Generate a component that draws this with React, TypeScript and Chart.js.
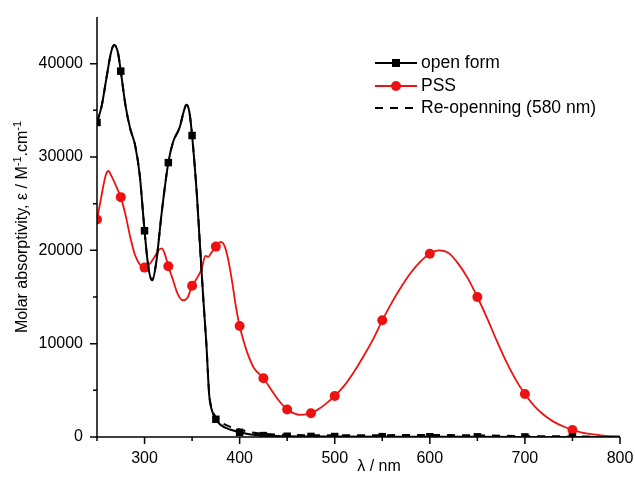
import React, { useEffect, useRef } from "react";
import { Chart, registerables } from "chart.js";

Chart.register(...registerables);

// ---- Data ----
const openWl = [250, 255, 260, 265, 268, 272, 275, 280, 285, 290, 295, 300, 304, 308, 312, 318, 325, 330, 337, 341, 344, 347, 350, 355, 358, 362, 365, 368, 371, 375, 380, 390, 400, 410, 425, 450, 475, 500, 550, 600, 650, 700, 750, 800];
const openEps = [33700, 35500, 38500, 41300, 42000, 41200, 39200, 35500, 33000, 31300, 28000, 22100, 18200, 16800, 18500, 24000, 29400, 31600, 33200, 34800, 35600, 34900, 32300, 26000, 21000, 14500, 10000, 4500, 2800, 1900, 1300, 800, 500, 300, 150, 80, 60, 50, 40, 30, 20, 10, 5, 0];

const pssWl = [250, 255, 259, 262, 265, 270, 275, 280, 285, 290, 295, 300, 305, 310, 314, 318, 321, 325, 330, 335, 340, 345, 350, 355, 360, 364, 367, 370, 375, 380, 384, 388, 392, 396, 400, 405, 410, 415, 425, 435, 442, 450, 458, 463, 470, 475, 480, 490, 500, 510, 520, 530, 540, 550, 560, 570, 580, 590, 600, 610, 620, 630, 640, 650, 660, 670, 680, 690, 700, 710, 720, 730, 740, 750, 760, 770, 780, 790, 800];
const pssEps = [23300, 26000, 28000, 28500, 28000, 26900, 25700, 23800, 21400, 19500, 18500, 18150, 18500, 19200, 19900, 20200, 19700, 18300, 16800, 15300, 14650, 14900, 16200, 17000, 18000, 19400, 19300, 19700, 20400, 20900, 20500, 19000, 16700, 14000, 11900, 10000, 8500, 7400, 6300, 4800, 3800, 2950, 2500, 2380, 2420, 2550, 2800, 3500, 4400, 5500, 6950, 8600, 10400, 12500, 14400, 16100, 17600, 18800, 19640, 20000, 19700, 18550, 17000, 15000, 12800, 10400, 8150, 6200, 4600, 3300, 2350, 1650, 1150, 750, 480, 300, 180, 100, 50];

const reWl = [250, 255, 260, 265, 268, 272, 275, 280, 285, 290, 295, 300, 304, 308, 312, 318, 325, 330, 337, 341, 344, 347, 350, 355, 358, 362, 365, 368, 371, 375, 380, 390, 400, 410, 425, 450, 475, 500, 550, 600, 650, 700, 750, 800];
const reEps = [33700, 35500, 38500, 41300, 42000, 41200, 39200, 35500, 33000, 31300, 28000, 22100, 18200, 16800, 18500, 24000, 29400, 31600, 33200, 34800, 35600, 34900, 32300, 26000, 21000, 14500, 10000, 4600, 3000, 2100, 1600, 1100, 800, 550, 350, 220, 200, 200, 200, 210, 180, 100, 60, 30];

const markerWl = [250, 275, 300, 325, 350, 375, 400, 425, 450, 475, 500, 550, 600, 650, 700, 750];

const xTickValues = [300, 400, 500, 600, 700, 800];
const xMinorValues = [250, 350, 450, 550, 650, 750];
const yTickValues = [0, 10000, 20000, 30000, 40000];
const yMinorValues = [5000, 15000, 25000, 35000];

const seriesNames = ["open form", "PSS", "Re-openning (580 nm)"];
const xTitle = "λ / nm";
const yTitleParts: [string, boolean][] = [
  ["Molar absorptivity, ε / M", false],
  ["-1", true],
  [".cm", false],
  ["-1", true],
];

const FONT = '"Liberation Sans", Arial, Helvetica, sans-serif';
const RED = "#ee1111";

const toXY = (wl: number[], eps: number[]) => wl.map((w, i) => ({ x: w, y: eps[i] }));

const decorPlugin = {
  id: "decor",
  afterDraw(chart: any) {
    const { ctx, chartArea, scales } = chart;
    const xs = scales.x;
    const ys = scales.y;
    const L = chartArea.left;
    const B = chartArea.bottom;
    ctx.save();
    ctx.strokeStyle = "#000";
    ctx.lineWidth = 1.5;
    ctx.lineCap = "butt";
    // axes
    ctx.beginPath();
    ctx.moveTo(L, chartArea.top);
    ctx.lineTo(L, B);
    ctx.lineTo(chartArea.right, B);
    ctx.stroke();
    // ticks
    ctx.beginPath();
    xTickValues.forEach((v) => {
      const p = xs.getPixelForValue(v);
      ctx.moveTo(p, B);
      ctx.lineTo(p, B + 7);
    });
    xMinorValues.forEach((v) => {
      const p = xs.getPixelForValue(v);
      ctx.moveTo(p, B);
      ctx.lineTo(p, B + 4);
    });
    yTickValues.forEach((v) => {
      const p = ys.getPixelForValue(v);
      ctx.moveTo(L, p);
      ctx.lineTo(L - 7, p);
    });
    yMinorValues.forEach((v) => {
      const p = ys.getPixelForValue(v);
      ctx.moveTo(L, p);
      ctx.lineTo(L - 4, p);
    });
    ctx.stroke();

    // x title
    ctx.fillStyle = "#000";
    ctx.font = `16px ${FONT}`;
    ctx.textAlign = "center";
    ctx.textBaseline = "middle";
    ctx.fillText(xTitle, 379, 467);

    // y title (rotated, with superscripts)
    ctx.save();
    ctx.translate(23, (chartArea.top + chartArea.bottom) / 2);
    ctx.rotate(-Math.PI / 2);
    ctx.textAlign = "left";
    ctx.textBaseline = "middle";
    let total = 0;
    yTitleParts.forEach(([t, sup]) => {
      ctx.font = sup ? `11px ${FONT}` : `16px ${FONT}`;
      total += ctx.measureText(t).width;
    });
    let cx = -total / 2;
    yTitleParts.forEach(([t, sup]) => {
      ctx.font = sup ? `11px ${FONT}` : `16px ${FONT}`;
      ctx.fillText(t, cx, sup ? -5 : 0);
      cx += ctx.measureText(t).width;
    });
    ctx.restore();

    // legend
    const lx0 = 375;
    const lx1 = 417;
    const lm = 396;
    const rows = [63, 86, 108];
    ctx.font = `17.5px ${FONT}`;
    ctx.textAlign = "left";
    ctx.textBaseline = "middle";
    // row 1
    ctx.strokeStyle = "#000";
    ctx.lineWidth = 2;
    ctx.setLineDash([]);
    ctx.beginPath();
    ctx.moveTo(lx0, rows[0]);
    ctx.lineTo(lx1, rows[0]);
    ctx.stroke();
    ctx.fillStyle = "#000";
    ctx.fillRect(lm - 4, rows[0] - 4, 8, 8);
    ctx.fillText(seriesNames[0], 421, rows[0]);
    // row 2
    ctx.strokeStyle = RED;
    ctx.beginPath();
    ctx.moveTo(lx0, rows[1]);
    ctx.lineTo(lx1, rows[1]);
    ctx.stroke();
    ctx.fillStyle = RED;
    ctx.beginPath();
    ctx.arc(lm, rows[1], 5, 0, Math.PI * 2);
    ctx.fill();
    ctx.fillStyle = "#000";
    ctx.fillText(seriesNames[1], 421, rows[1]);
    // row 3
    ctx.strokeStyle = "#000";
    ctx.setLineDash([8, 7]);
    ctx.beginPath();
    ctx.moveTo(lx0, rows[2]);
    ctx.lineTo(lx1, rows[2]);
    ctx.stroke();
    ctx.setLineDash([]);
    ctx.fillText(seriesNames[2], 421, rows[2]);
    ctx.restore();
  },
};

export default function App() {
  const ref = useRef<HTMLCanvasElement | null>(null);
  useEffect(() => {
    if (!ref.current) return;
    const markerRadius = (r: number) => (c: any) =>
      c.raw && markerWl.includes(c.raw.x) ? r : 0;
    const chart = new Chart(ref.current, {
      type: "line",
      data: {
        datasets: [
          {
            label: seriesNames[0],
            data: toXY(openWl, openEps),
            borderColor: "#000",
            backgroundColor: "#000",
            borderWidth: 2,
            pointStyle: "rect",
            pointRadius: markerRadius(5.3),
            pointBorderWidth: 0,
            cubicInterpolationMode: "monotone",
            fill: false,
            order: 1,
          },
          {
            label: seriesNames[1],
            data: toXY(pssWl, pssEps),
            borderColor: RED,
            backgroundColor: RED,
            borderWidth: 1.8,
            pointStyle: "circle",
            pointRadius: markerRadius(5),
            pointBorderWidth: 0,
            cubicInterpolationMode: "monotone",
            fill: false,
            order: 2,
          },
          {
            label: seriesNames[2],
            data: toXY(reWl, reEps),
            borderColor: "#000",
            backgroundColor: "#000",
            borderWidth: 2,
            borderDash: [8, 7],
            pointRadius: 0,
            cubicInterpolationMode: "monotone",
            fill: false,
            order: 3,
          },
        ],
      },
      options: {
        animation: false,
        responsive: false,
        maintainAspectRatio: false,
        events: [],
        layout: { padding: { top: 17, right: 15, left: 0, bottom: 0 } },
        plugins: {
          legend: { display: false },
          tooltip: { enabled: false },
          title: { display: false },
        },
        scales: {
          x: {
            type: "linear",
            min: 250,
            max: 800,
            grid: { display: false },
            border: { display: false },
            afterBuildTicks: (s: any) => {
              s.ticks = xTickValues.map((v) => ({ value: v }));
            },
            afterFit: (s: any) => {
              s.height = 43;
              s.paddingLeft = 0;
              s.paddingRight = 0;
            },
            ticks: {
              padding: 4,
              color: "#000",
              font: { family: FONT, size: 16 },
              maxRotation: 0,
              autoSkip: false,
              callback: (v: any) => String(v),
            },
          },
          y: {
            type: "linear",
            min: 0,
            max: 45000,
            grid: { display: false },
            border: { display: false },
            afterBuildTicks: (s: any) => {
              s.ticks = yTickValues.map((v) => ({ value: v }));
            },
            afterFit: (s: any) => {
              s.width = 97;
              s.paddingTop = 0;
              s.paddingBottom = 0;
            },
            ticks: {
              padding: 6,
              color: "#000",
              font: { family: FONT, size: 16 },
              autoSkip: false,
              callback: (v: any) => String(v),
            },
          },
        },
      },
      plugins: [decorPlugin],
    });
    return () => chart.destroy();
  }, []);
  return (
    <div style={{ position: "absolute", left: 0, top: 0, width: 635, height: 480, background: "#fff" }}>
      <canvas ref={ref} width={635} height={480} style={{ width: 635, height: 480 }} />
    </div>
  );
}
